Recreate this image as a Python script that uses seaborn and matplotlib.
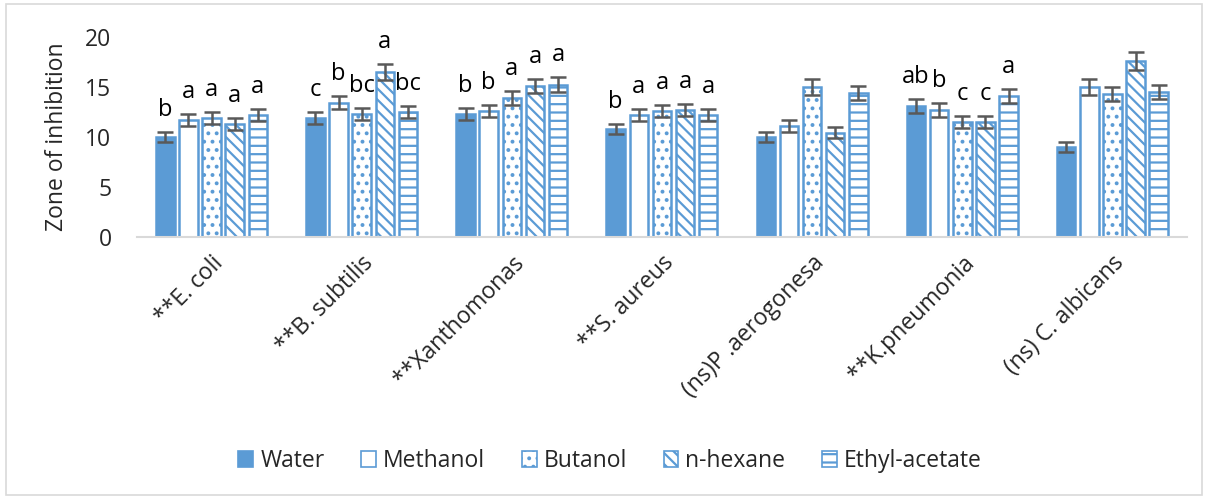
import numpy as np
import pandas as pd
import matplotlib
matplotlib.use("Agg")
import matplotlib.pyplot as plt
import seaborn as sns
from matplotlib.patches import Patch, Rectangle

# Organisms tested (x categories)
organisms = ["**E. coli", "**B. subtilis", "**Xanthomonas", "**S. aureus",
             "(ns)P .aerogonesa", "**K.pneumonia", "(ns) C. albicans"]
solvents = ["Water", "Methanol", "Butanol", "n-hexane", "Ethyl-acetate"]

# Mean zone of inhibition per solvent (one value per organism)
water = [10.0, 11.9, 12.3, 10.8, 10.0, 13.1, 9.0]
methanol = [11.7, 13.4, 12.6, 12.2, 11.1, 12.7, 15.0]
butanol = [11.9, 12.3, 13.9, 12.6, 15.0, 11.5, 14.3]
n_hexane = [11.3, 16.5, 15.1, 12.7, 10.4, 11.5, 17.6]
ethyl_acetate = [12.2, 12.5, 15.2, 12.2, 14.4, 14.1, 14.5]

# Standard errors
err_water = [0.50, 0.62, 0.63, 0.53, 0.52, 0.68, 0.47]
err_methanol = [0.58, 0.65, 0.62, 0.62, 0.57, 0.67, 0.77]
err_butanol = [0.60, 0.62, 0.70, 0.62, 0.77, 0.62, 0.73]
err_n_hexane = [0.58, 0.83, 0.73, 0.63, 0.55, 0.62, 0.92]
err_ethyl_acetate = [0.58, 0.63, 0.75, 0.60, 0.73, 0.73, 0.73]

# Significance letters (empty where not significant)
let_water = ["b", "c", "b", "b", "", "ab", ""]
let_methanol = ["a", "b", "b", "a", "", "b", ""]
let_butanol = ["a", "bc", "a", "a", "", "c", ""]
let_n_hexane = ["a", "a", "a", "a", "", "c", ""]
let_ethyl_acetate = ["a", "bc", "a", "a", "", "a", ""]

values = [water, methanol, butanol, n_hexane, ethyl_acetate]
errors = [err_water, err_methanol, err_butanol, err_n_hexane, err_ethyl_acetate]
letters = [let_water, let_methanol, let_butanol, let_n_hexane, let_ethyl_acetate]

df = pd.DataFrame({
    "organism": np.tile(organisms, len(solvents)),
    "solvent": np.repeat(solvents, len(organisms)),
    "zone": np.concatenate(values),
})

BLUE = "#5B9BD5"
GREY = "#595959"
FS = 16.5

sns.set_style("white")
plt.rcParams["font.family"] = ["Open Sans", "DejaVu Sans"]
plt.rcParams["hatch.linewidth"] = 1.6
plt.rcParams["hatch.color"] = BLUE

fig = plt.figure(figsize=(12.08, 4.99), dpi=100)
ax = fig.add_axes([0.113, 0.525, 0.87, 0.401])

sns.barplot(data=df, x="organism", y="zone", hue="solvent", order=organisms,
            hue_order=solvents, errorbar=None, width=0.77, gap=0.2,
            ax=ax, legend=False)

hatches = [None, None, "..", "\\\\\\", "--"]
faces = [BLUE, "white", "white", "white", "white"]
bar_groups = list(ax.containers)
for k, cont in enumerate(bar_groups):
    for j, bar in enumerate(cont.patches):
        bar.set_facecolor(faces[k])
        bar.set_edgecolor(BLUE)
        bar.set_linewidth(1.8)
        if hatches[k]:
            bar.set_hatch(hatches[k])
        xc = bar.get_x() + bar.get_width() / 2
        v = values[k][j]
        e = errors[k][j]
        ax.errorbar(xc, v, yerr=e, fmt="none", ecolor=GREY, elinewidth=1.8,
                    capsize=5.5, capthick=1.8, zorder=5)
        if letters[k][j]:
            ax.text(xc, v + e + 1.0, letters[k][j], ha="center", va="bottom",
                    fontsize=FS + 0.5, color="black")

ax.set_ylim(0, 20)
ax.set_yticks([0, 5, 10, 15, 20])
ax.set_xlim(-0.5, len(organisms) - 0.5)
ax.set_xlabel("")
ax.set_ylabel("Zone of inhibition", fontsize=FS, labelpad=12)
ax.tick_params(axis="y", labelsize=FS, length=0, pad=18)
ax.tick_params(axis="x", labelsize=FS, length=0, pad=10)
plt.setp(ax.get_xticklabels(), rotation=45, ha="right", rotation_mode="anchor")

for s in ["top", "right", "left"]:
    ax.spines[s].set_visible(False)
ax.spines["bottom"].set_color("#D9D9D9")
ax.spines["bottom"].set_linewidth(1.5)

handles = [Patch(facecolor=faces[k], edgecolor=BLUE, hatch=hatches[k],
                 linewidth=1.2, label=solvents[k]) for k in range(len(solvents))]
fig.legend(handles=handles, loc="center", bbox_to_anchor=(0.505, 0.076), ncol=5,
           frameon=False, fontsize=FS, handlelength=0.65, handleheight=0.65,
           handletextpad=0.3, columnspacing=1.6)

fig.patches.append(Rectangle((0.005, 0.008), 0.99, 0.984, transform=fig.transFigure,
                             fill=False, edgecolor="#D9D9D9", linewidth=1.2))

fig.savefig("out.png", dpi=100)
